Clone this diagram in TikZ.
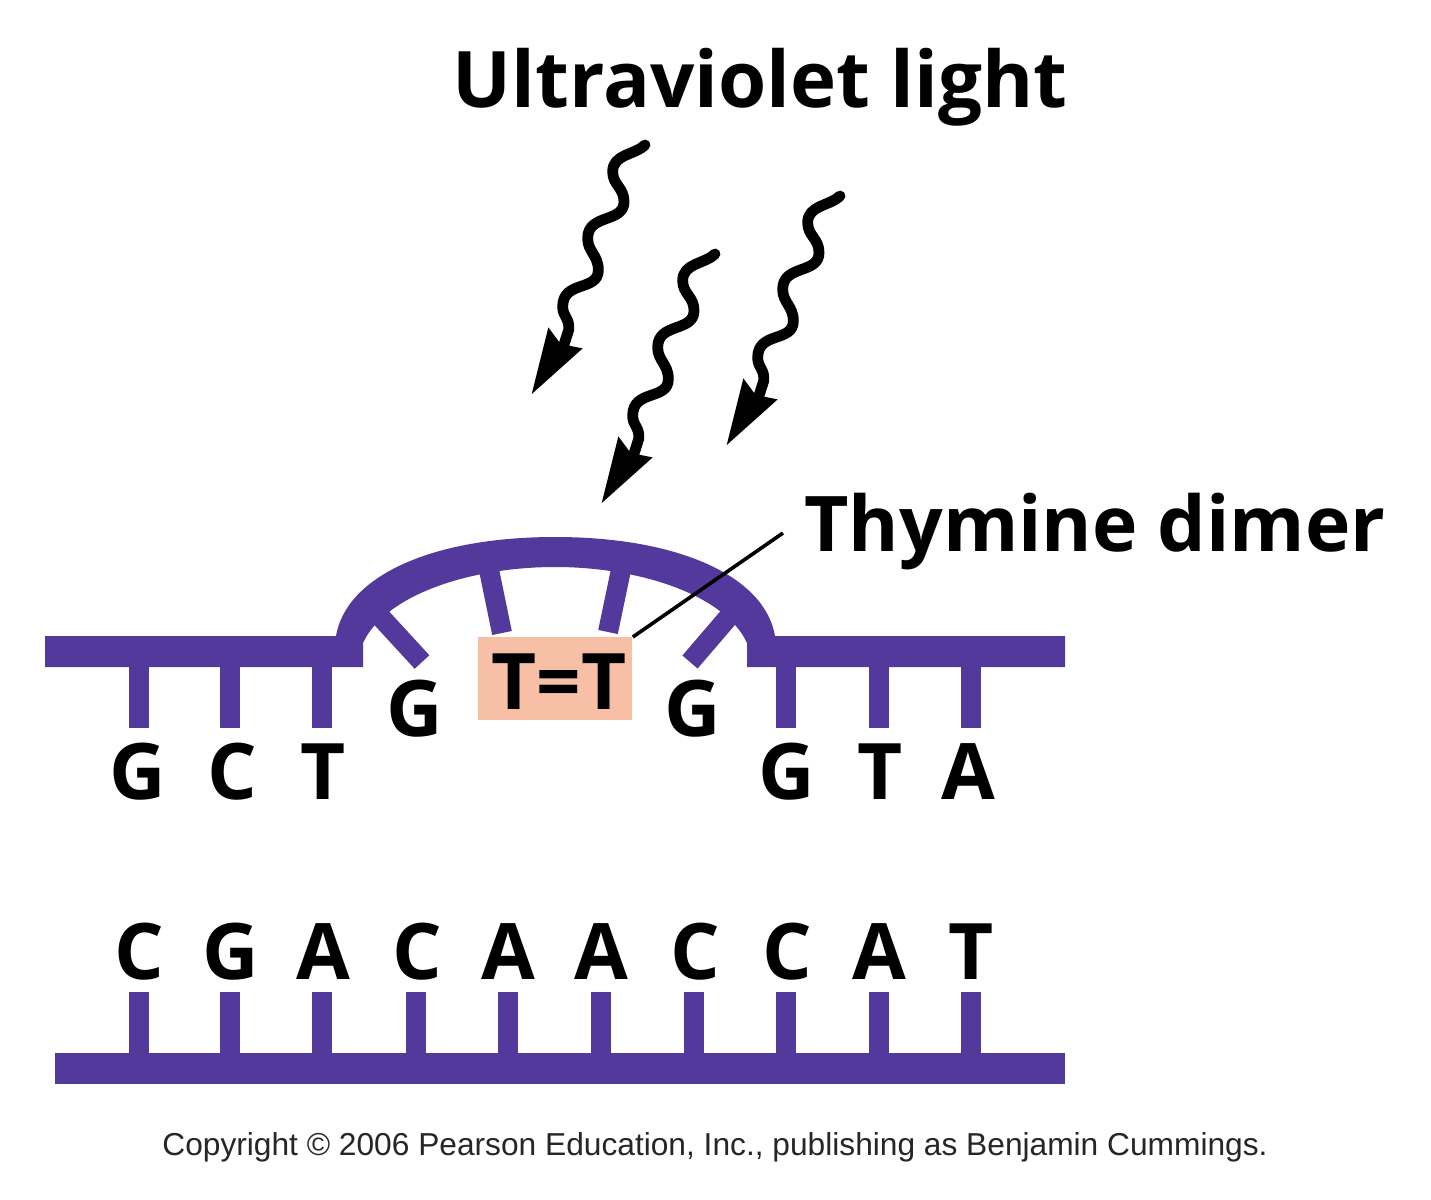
\documentclass[tikz,border=0pt]{standalone}
\usepackage{fontspec}
\setmainfont{Open Sans}
\newfontfamily\copyfont{Liberation Sans}
\definecolor{dna}{HTML}{53399B}
\definecolor{dimer}{HTML}{F7BFA5}
\newcommand{\wavyarrow}[2]{%
  \begin{scope}[shift={(#1,#2)},x=0.1667pt,y=-0.1667pt]
    \draw[wave] (375,45) .. controls (345,75) and (278,72) .. (278,125)
      .. controls (278,165) and (312,172) .. (312,215)
      .. controls (312,280) and (203,250) .. (203,325)
      .. controls (203,365) and (235,375) .. (235,420)
      .. controls (235,485) and (128,450) .. (128,530)
      .. controls (128,560) and (150,565) .. (146,600) -- (130,650);
    \fill[black] (35,792) -- (85,592) -- (122,642) -- (188,655) -- cycle;
  \end{scope}}
\tikzset{
  x=0.5pt,y=-0.5pt,
  wave/.style={black,line width=5.4pt,line cap=round,line join=round},
  stem/.style={draw=dna,line width=10pt},
  bar/.style={fill=dna},
  base/.style={font=\fontsize{39}{39}\selectfont\bfseries,anchor=base,inner sep=0pt,text=black},
  title/.style={font=\fontsize{39}{39}\selectfont\bfseries,anchor=base,inner sep=0pt,text=black},
}
\begin{document}
\begin{tikzpicture}
\useasboundingbox (0,0) rectangle (1431,1200);
\fill[white] (0,0) rectangle (1431,1200);
% backbones
\fill[bar] (45,636) -- (336,636)
  .. controls (346,577) and (430,537) .. (555,537)
  .. controls (680,537) and (765,577) .. (775,636)
  -- (1065,636) -- (1065,667) -- (747,667) -- (747,643)
  .. controls (725,595) and (640,567) .. (555,567)
  .. controls (470,567) and (385,595) .. (363,643)
  -- (363,667) -- (45,667) -- cycle;
\fill[bar] (55,1053) rectangle (1065,1084);
% stems
\foreach \x in {139,230,322,786,879,971} \draw[stem] (\x,660) -- (\x,728);
\foreach \x in {139,230,322,416,508,601,694,786,879,971} \draw[stem] (\x,992) -- (\x,1060);
\draw[stem] (376,612) -- (422,662);
\draw[stem] (732,613) -- (690,662);
\draw[stem] (488,565) -- (502,633);
\draw[stem] (622,565) -- (608,632);
% dimer box
\node[fill=dimer,minimum width=77pt,minimum height=41.5pt,inner sep=0pt,anchor=north west] (tt) at (478,637) {};
\node[base] (ttl) at (559,709) {T=T};
% letters
\node[base] (g1) at (138,799) {G};
\node[base] (c1) at (232,799) {C};
\node[base] (t1) at (323,799) {T};
\node[base] (g2) at (415,736) {G};
\node[base] (g3) at (693,736) {G};
\node[base] (g4) at (787,799) {G};
\node[base] (t2) at (880,799) {T};
\node[base] (a1) at (968,799) {A};
\foreach \x/\l/\n in {139/C/a,231/G/b,323/A/c,417/C/d,508/A/e,601/A/f,695/C/g,787/C/h,879/A/i,971/T/j}
  \node[base] (low\n) at (\x,979) {\l};
% labels
\node[title] (uv) at (760,107) {Ultraviolet light};
\node[font=\fontsize{38.4}{39}\selectfont\bfseries,anchor=base,inner sep=0pt,text=black] (thy) at (1095,551) {Thymine dimer};
\coordinate (lead) at (783,533);
\draw[black,line width=1.8pt] (tt.north east) -- (lead);
% wavy arrows
\wavyarrow{520}{130}
\wavyarrow{590}{239}
\wavyarrow{715}{181}
\node[font=\copyfont\fontsize{15.85}{16}\selectfont,anchor=base,inner sep=0pt,text=black!85] (copy) at (715,1155) {Copyright © 2006 Pearson Education, Inc., publishing as Benjamin Cummings.};
\end{tikzpicture}
\end{document}
